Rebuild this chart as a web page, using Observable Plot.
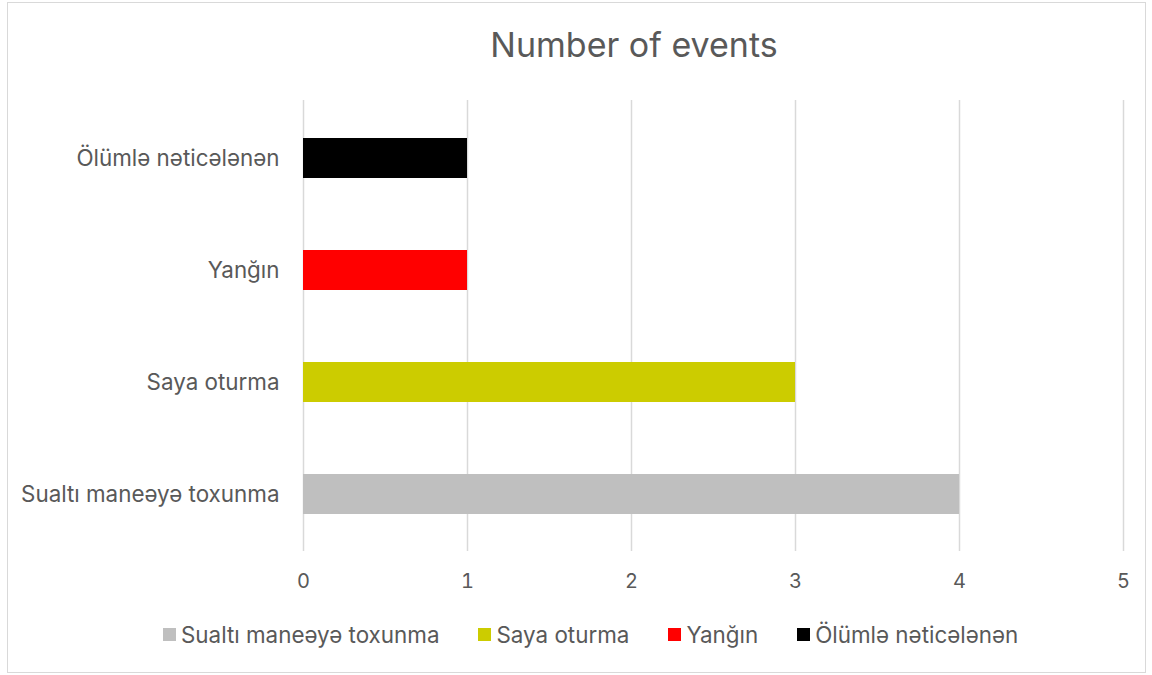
<!DOCTYPE html>
<html>
<head>
<meta charset="utf-8">
<script src="https://cdn.jsdelivr.net/npm/d3@7"></script>
<script src="https://cdn.jsdelivr.net/npm/@observablehq/plot@0.6"></script>
<style>
  html, body { margin: 0; padding: 0; background: #fff; }
  body { width: 1152px; height: 675px; position: relative; overflow: hidden; font-family: Inter, "Open Sans", sans-serif; color: #595959; }
  #frame { position: absolute; left: 7px; top: 2px; width: 1137px; height: 669px; border: 1.5px solid #d9d9d9; }
  #title { position: absolute; left: 0; width: 1268px; top: 24px; text-align: center; font-size: 34px; color: #595959; }
  #chart { position: absolute; left: 0; top: 0; }
  #legend { position: absolute; top: 621px; left: 163px; display: flex; align-items: center; font-size: 22.4px; color: #595959; white-space: nowrap; }
  .item { display: flex; align-items: center; margin-right: 39px; }
  .sw { width: 13px; height: 13px; margin-right: 5px; }
</style>
</head>
<body>
<div id="frame"></div>
<div id="title">Number of events</div>
<div id="chart"></div>
<div id="legend"></div>
<script>
const categories = ["Sualtı maneəyə toxunma", "Saya oturma", "Yanğın", "Ölümlə nəticələnən"];
const values = [4, 3, 1, 1];
const colors = ["#bfbfbf", "#cccc00", "#ff0000", "#000000"];
const xTicks = [0, 1, 2, 3, 4, 5];

const data = categories.map((c, i) => ({category: c, value: values[i], color: colors[i]}));

const plot = Plot.plot({
  width: 1152,
  height: 600,
  marginLeft: 303,
  marginRight: 29,
  marginTop: 100,
  marginBottom: 49,
  style: {fontFamily: "Inter, 'Open Sans', sans-serif", fontSize: "22.4px", color: "#595959", background: "transparent"},
  x: {domain: [0, 5], label: null},
  y: {domain: categories.slice().reverse(), paddingInner: 0.645, paddingOuter: 0.3225, label: null},
  marks: [
    Plot.ruleX(xTicks, {stroke: "#d9d9d9", strokeWidth: 1.5}),
    Plot.barX(data, {x: "value", y: "category", fill: "color"}),
    Plot.axisX({ticks: xTicks, tickFormat: d3.format("d"), tickSize: 0, tickPadding: 22, fontSize: 20, label: null}),
    Plot.axisY({tickSize: 0, tickPadding: 24, fontSize: 22.4, label: null})
  ]
});
document.getElementById("chart").appendChild(plot);

const legend = document.getElementById("legend");
categories.forEach((c, i) => {
  const it = document.createElement("div");
  it.className = "item";
  const sw = document.createElement("div");
  sw.className = "sw";
  sw.style.background = colors[i];
  it.appendChild(sw);
  const t = document.createElement("span");
  t.textContent = c;
  it.appendChild(t);
  legend.appendChild(it);
});
</script>
</body>
</html>
